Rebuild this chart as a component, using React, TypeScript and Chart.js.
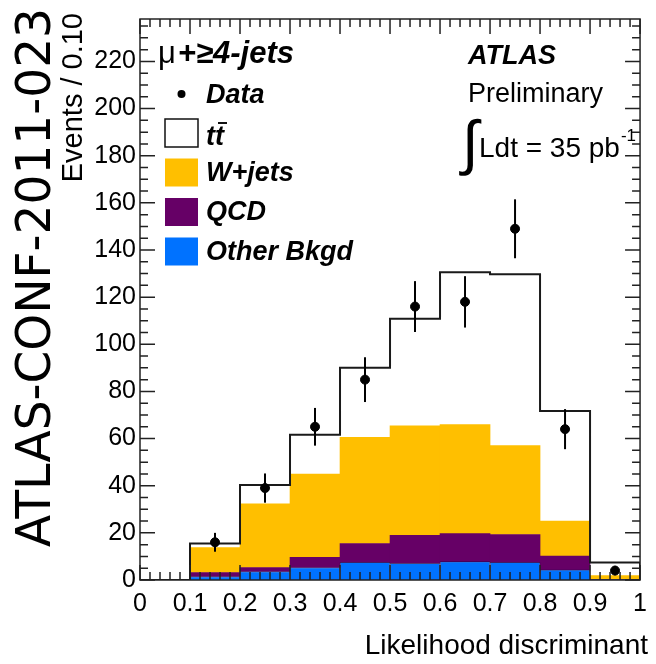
import React, { useEffect, useRef } from 'react';
import { Chart, registerables } from 'chart.js';

Chart.register(...registerables);

const FONT = '"Liberation Sans", Arial, Helvetica, sans-serif';

// Bins of the likelihood discriminant
const binLabels = ['0.05', '0.15', '0.25', '0.35', '0.45', '0.55', '0.65', '0.75', '0.85', '0.95'];
const binEdges = [0, 0.1, 0.2, 0.3, 0.4, 0.5, 0.6, 0.7, 0.8, 0.9, 1.0];

// Stacked MC contributions (events per bin)
const otherBkgd = [0, 1.5, 3.6, 5.3, 7.5, 7.1, 7.8, 7.5, 4.3, 0.2];
const qcd = [0, 1.7, 1.7, 4.3, 8.0, 11.9, 11.9, 11.8, 5.9, 0.1];
const wJets = [0, 10.6, 27.0, 35.3, 45.0, 46.4, 46.2, 37.7, 14.8, 1.6];
const ttbar = [0, 1.7, 8.0, 16.7, 29.5, 45.4, 64.7, 72.7, 46.7, 5.5];

// Data points with statistical errors
const dataX = [0.15, 0.25, 0.35, 0.45, 0.55, 0.65, 0.75, 0.85, 0.95];
const dataY = [16, 39, 65, 85, 116, 118, 149, 64, 4];
const dataErr = [4, 6.2, 8, 9.5, 10.8, 10.9, 12.5, 8.5, 2];

// Axis ticks
const xTickLabels = ['0', '0.1', '0.2', '0.3', '0.4', '0.5', '0.6', '0.7', '0.8', '0.9', '1'];
const yMax = 238;
const yStep = 20;
const xStep = 0.1;

const colors = {
  other: '#0072FF',
  qcd: '#660066',
  wjets: '#FFBF00',
  ttbar: '#FFFFFF',
  line: '#1a1a1a',
};

export default function App() {
  const ref = useRef<HTMLCanvasElement>(null);

  useEffect(() => {
    document.body.style.margin = '0';
    const canvas = ref.current!;
    const totals = binLabels.map((_, i) => otherBkgd[i] + qcd[i] + wJets[i] + ttbar[i]);
    const outline = binEdges.map((e, i) => ({ x: e, y: i < totals.length ? totals[i] : 0 }));
    const points = dataX.map((x, i) => ({ x, y: dataY[i] }));

    const decor = {
      id: 'decor',
      beforeDraw(c: any) {
        const ctx = c.ctx;
        ctx.save();
        ctx.fillStyle = '#fff';
        ctx.fillRect(0, 0, c.width, c.height);
        ctx.restore();
      },
      afterDatasetsDraw(c: any) {
        const ctx = c.ctx;
        const xs = c.scales.x2;
        const ys = c.scales.y;
        const a = c.chartArea;
        ctx.save();
        // error bars
        ctx.strokeStyle = '#000';
        ctx.lineWidth = 2;
        dataX.forEach((x, i) => {
          const px = xs.getPixelForValue(x);
          ctx.beginPath();
          ctx.moveTo(px, ys.getPixelForValue(dataY[i] + dataErr[i]));
          ctx.lineTo(px, ys.getPixelForValue(Math.max(0, dataY[i] - dataErr[i])));
          ctx.stroke();
        });
        // inner tick marks
        ctx.strokeStyle = '#222';
        ctx.lineWidth = 1.5;
        ctx.beginPath();
        for (let i = 0; i <= 50; i++) {
          const v = i / 50;
          const px = xs.getPixelForValue(v);
          const len = i % 5 === 0 ? 15 : 8;
          ctx.moveTo(px, a.bottom);
          ctx.lineTo(px, a.bottom - len);
          ctx.moveTo(px, a.top);
          ctx.lineTo(px, a.top + len);
        }
        for (let v = 0; v <= yMax; v += 5) {
          const py = ys.getPixelForValue(v);
          const len = v % yStep === 0 ? 15 : 8;
          ctx.moveTo(a.left, py);
          ctx.lineTo(a.left + len, py);
          ctx.moveTo(a.right, py);
          ctx.lineTo(a.right - len, py);
        }
        ctx.stroke();
        // frame
        ctx.lineWidth = 1.5;
        ctx.strokeRect(a.left, a.top, a.right - a.left, a.bottom - a.top);
        ctx.restore();
      },
      afterDraw(c: any) {
        const ctx = c.ctx;
        ctx.save();
        ctx.fillStyle = '#000';
        ctx.textAlign = 'left';
        ctx.textBaseline = 'alphabetic';

        // big vertical document label
        const big = 'ATLAS-CONF-2011-023';
        ctx.save();
        ctx.font = '48px "DejaVu Sans", sans-serif';
        const bw = ctx.measureText(big).width;
        ctx.translate(50, 547);
        ctx.rotate(-Math.PI / 2);
        ctx.scale(539 / bw, 1);
        ctx.fillText(big, 0, 0);
        ctx.restore();

        // y axis title
        ctx.save();
        ctx.font = `29px ${FONT}`;
        ctx.translate(82, 13);
        ctx.rotate(-Math.PI / 2);
        ctx.textAlign = 'right';
        ctx.fillText('Events / 0.10', 0, 0);
        ctx.restore();

        // x axis title
        ctx.font = `28px ${FONT}`;
        ctx.textAlign = 'right';
        ctx.fillText('Likelihood discriminant', 648, 654);
        ctx.textAlign = 'left';

        // channel title
        ctx.font = `31px ${FONT}`;
        ctx.fillText('μ', 158, 63);
        const mw = ctx.measureText('μ').width;
        ctx.font = `italic bold 31px ${FONT}`;
        ctx.fillText('+≥4-jets', 158 + mw + 2, 63);

        // legend
        const rows = [94, 133, 172.5, 212, 251.5];
        const bx = 165, bwid = 33, bh = 28, tx = 206;
        ctx.font = `italic bold 27px ${FONT}`;
        // Data
        ctx.beginPath();
        ctx.arc(181.5, rows[0], 4, 0, Math.PI * 2);
        ctx.fill();
        ctx.fillText('Data', tx, rows[0] + 8.5);
        // ttbar
        ctx.lineWidth = 1.5;
        ctx.strokeStyle = '#111';
        ctx.fillStyle = colors.ttbar;
        ctx.fillRect(bx, rows[1] - bh / 2, bwid, bh);
        ctx.strokeRect(bx, rows[1] - bh / 2, bwid, bh);
        ctx.fillStyle = '#000';
        ctx.fillText('tt', tx, rows[1] + 12);
        const t1 = ctx.measureText('t').width;
        const t2 = ctx.measureText('tt').width;
        ctx.lineWidth = 2;
        ctx.beginPath();
        ctx.moveTo(tx + t1 + 3, rows[1] - 10);
        ctx.lineTo(tx + t2 + 3, rows[1] - 10);
        ctx.stroke();
        // others
        const items = [
          { label: 'W+jets', color: colors.wjets },
          { label: 'QCD', color: colors.qcd },
          { label: 'Other Bkgd', color: colors.other },
        ];
        items.forEach((it, k) => {
          const cy = rows[k + 2];
          ctx.fillStyle = it.color;
          ctx.fillRect(bx, cy - bh / 2, bwid, bh);
          ctx.fillStyle = '#000';
          ctx.fillText(it.label, tx, cy + 8);
        });

        // ATLAS label
        ctx.font = `italic bold 27px ${FONT}`;
        ctx.fillText('ATLAS', 468, 64);
        ctx.font = `27px ${FONT}`;
        ctx.fillText('Preliminary', 468, 102);
        // integral sign fitted to 118..176
        ctx.save();
        ctx.font = `60px ${FONT}`;
        const m = ctx.measureText('∫');
        const hgt = m.actualBoundingBoxAscent + m.actualBoundingBoxDescent;
        const s = 58 / hgt;
        ctx.font = `${60 * s}px ${FONT}`;
        const m2 = ctx.measureText('∫');
        ctx.fillText('∫', 459 + m2.actualBoundingBoxLeft, 118 + m2.actualBoundingBoxAscent);
        ctx.restore();
        ctx.font = `28px ${FONT}`;
        ctx.fillText('Ldt = 35 pb', 479, 157);
        const lw = ctx.measureText('Ldt = 35 pb').width;
        ctx.font = `17px ${FONT}`;
        ctx.fillText('-1', 479 + lw + 1, 141);

        ctx.restore();
      },
    };

    const barCommon = { stack: 'mc', xAxisID: 'x', yAxisID: 'y', grouped: false, categoryPercentage: 1, barPercentage: 1 };

    const chart = new Chart(canvas, {
      type: 'bar',
      data: {
        labels: binLabels,
        datasets: [
          {
            type: 'scatter',
            label: 'Data',
            data: points,
            xAxisID: 'x2',
            yAxisID: 'y',
            pointRadius: 4.5,
            pointBackgroundColor: '#000',
            pointBorderColor: '#000',
            borderColor: '#000',
            showLine: false,
            stack: 'data',
          } as any,
          {
            type: 'line',
            label: 'outline',
            data: outline,
            xAxisID: 'x2',
            yAxisID: 'y',
            stepped: true,
            borderColor: colors.line,
            borderWidth: 2,
            pointRadius: 0,
            fill: false,
            stack: 'outline',
          } as any,
          {
            ...barCommon,
            label: 'Other Bkgd',
            data: otherBkgd,
            backgroundColor: colors.other,
            borderColor: 'rgba(0,0,70,0.55)',
            borderWidth: 1,
          } as any,
          { ...barCommon, label: 'QCD', data: qcd, backgroundColor: colors.qcd } as any,
          { ...barCommon, label: 'W+jets', data: wJets, backgroundColor: colors.wjets } as any,
          { ...barCommon, label: 'tt̄', data: ttbar, backgroundColor: colors.ttbar } as any,
        ],
      },
      options: {
        animation: false,
        responsive: false,
        devicePixelRatio: 1,
        layout: { padding: { left: 0, right: 7, top: 13, bottom: 0 } },
        plugins: { legend: { display: false }, tooltip: { enabled: false }, title: { display: false } },
        scales: {
          x: {
            type: 'category',
            display: false,
            stacked: true,
            offset: true,
          },
          x2: {
            type: 'linear',
            position: 'bottom',
            min: 0,
            max: 1,
            offset: false,
            grid: { display: false, drawTicks: false, offset: false },
            border: { display: false },
            ticks: {
              stepSize: xStep,
              autoSkip: false,
              maxRotation: 0,
              padding: 9,
              color: '#000',
              font: { family: FONT, size: 25 },
              callback: (_v: any, i: number) => xTickLabels[i],
            },
            afterFit: (s: any) => {
              s.height = 84;
            },
          },
          y: {
            type: 'linear',
            stacked: true,
            min: 0,
            max: yMax,
            grid: { display: false, drawTicks: false },
            border: { display: false },
            ticks: {
              stepSize: yStep,
              includeBounds: false,
              padding: 4,
              color: '#000',
              font: { family: FONT, size: 25 },
            },
            afterFit: (s: any) => {
              s.width = 140;
            },
          },
        },
      } as any,
      plugins: [decor],
    });
    return () => chart.destroy();
  }, []);

  return (
    <div style={{ position: 'absolute', left: 0, top: 0, width: 656, height: 664 }}>
      <canvas ref={ref} width={656} height={664} style={{ display: 'block', width: 656, height: 664 }} />
    </div>
  );
}
